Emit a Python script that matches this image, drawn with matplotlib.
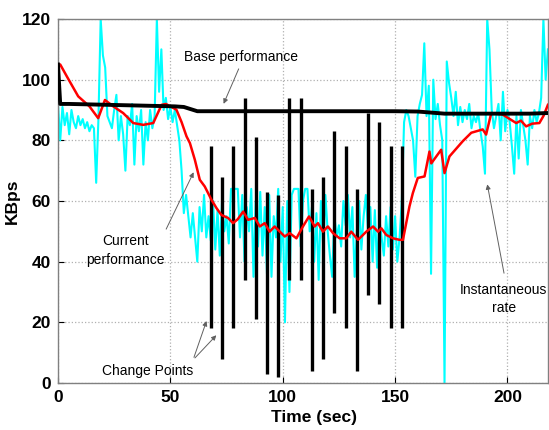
import matplotlib
matplotlib.use("Agg")
import matplotlib.pyplot as plt
import numpy as np

# ---------------- data ----------------
# instantaneous rate (cyan), one sample per second, t = 0..218
inst_rate = [
    92, 80, 91, 85, 89, 82, 90, 86, 84, 88,
    85, 87, 84, 86, 83, 85, 84, 66, 87, 120,
    108, 104, 88, 86, 84, 90, 95, 80, 88, 82,
    70, 88, 85, 92, 72, 88, 83, 90, 72, 86,
    80, 90, 84, 88, 120, 96, 110, 90, 94, 87,
    91, 86, 90, 85, 80, 70, 56, 62, 55, 48,
    56, 48, 40, 58, 50, 62, 48, 55, 47, 60,
    44, 57, 42, 60, 50, 55, 46, 64, 64, 64,
    64, 48, 62, 40, 58, 50, 64, 35, 60, 45,
    63, 42, 58, 36, 62, 35, 55, 48, 64, 40,
    58, 20, 60, 30, 62, 64, 64, 64, 45, 60,
    64, 64, 50, 58, 40, 56, 34, 60, 45, 62,
    50, 42, 35, 55, 48, 52, 45, 60, 52, 62,
    48, 58, 35, 50, 60, 44, 55, 62, 50, 58,
    40, 57, 38, 54, 48, 42, 55, 45, 58, 44,
    55, 40, 48, 60, 86, 90, 88, 84, 80, 68,
    88, 92, 95, 112, 88, 98, 36, 100, 87, 92,
    85, 80, 0, 106, 99, 94, 88, 96, 85, 91,
    86, 90, 87, 92, 84, 88, 86, 89, 83, 78,
    69, 120, 110, 90, 84, 88, 92, 80, 96, 83,
    90, 86, 78, 69, 88, 74, 90, 85, 80, 72,
    88, 84, 90, 86, 89, 94, 120, 100, 110,
]
inst_time = list(range(len(inst_rate)))

# current performance (red)
cur_time = [0, 1, 4, 9, 14, 17.9, 20.9, 24.6, 29, 33.5, 37.9, 42.4, 46.1, 48, 52.7,
            55, 57.2, 58.7, 60.9, 63.1, 65.3, 68.3, 70.5, 72.7, 75.7, 77.9, 80, 82.4,
            84.6, 87.6, 89.8, 92, 94.2, 96.4, 98.7, 100.9, 103.1, 106.1, 109, 111.7,
            114.2, 115.7, 117.9, 120.1, 122.4, 125.3, 128.3, 130.5, 133.5, 137.2,
            140.2, 142.4, 143.9, 146.1, 149.1, 152, 153.5, 156.4, 157.9, 160.1,
            163.1, 165.3, 166.1, 170.5, 172, 174.2, 180.1, 183.9, 189, 190.5,
            192.8, 197.9, 200, 203.9, 206, 208.3, 211, 214.2, 216, 218]
cur_perf = [105, 105, 101, 94.5, 91.2, 87.3, 93.3, 91.2, 89, 85.7, 85.1, 85.7, 91.7, 92, 90.1,
            86, 81.3, 79.1, 73.6, 67, 64.8, 60.4, 57.7, 55.4, 54.4, 52.7, 54, 56.5,
            53.8, 54.4, 51.6, 52.7, 49.9, 51.6, 49.9, 48.3, 49.4, 47.7, 51.6, 54.9,
            51.6, 52.7, 49.9, 51.6, 49.4, 47.7, 47.7, 49.9, 47.2, 49.9,
            51.6, 49.9, 51, 48.8, 47.7, 47.2, 47.2, 58.2, 62.6, 67.6,
            68.1, 76.3, 72.4, 76.9, 69.2, 74.7, 79.7, 82.5, 83.6, 81.9,
            89, 88.5, 87.5, 85.7, 86.5, 84.6, 85.5, 85.7, 88, 91.7]

# base performance (black)
base_time = [0, 1, 5, 52, 56, 62, 150, 160, 172, 210, 218]
base_perf = [105, 92, 92, 91.2, 91, 89.6, 89.6, 89.5, 88.8, 88.8, 89]

# change points (vertical black bars)
cp_time = [68, 73, 78, 83, 88, 93, 98, 103, 108, 113, 118, 123, 128, 133, 138, 143, 148, 153]
cp_top = [78, 68, 78, 94, 81, 63, 62, 94, 94, 64, 68, 83, 78, 64, 89, 86, 78, 78]
cp_bot = [18, 8, 18, 34, 21, 3, 2, 34, 34, 4, 8, 23, 18, 4, 29, 26, 18, 18]

x_ticks = [0, 50, 100, 150, 200]
y_ticks = [0, 20, 40, 60, 80, 100, 120]

# ---------------- plot ----------------
plt.rcParams['font.family'] = ['Liberation Sans', 'DejaVu Sans']

fig = plt.figure(figsize=(5.49, 4.30), dpi=100)
ax = fig.add_axes([0.1056, 0.1093, 0.8944 - 0.002, 0.8465])

ax.plot(inst_time, inst_rate, color='#00ffff', lw=1.5, zorder=2)
ax.vlines(cp_time, cp_bot, cp_top, color='black', lw=2.4, zorder=3)
ax.plot(cur_time, cur_perf, color='#ff0000', lw=1.8, zorder=4)
ax.plot(base_time, base_perf, color='black', lw=2.8, zorder=5)

ax.set_xlim(0, 218)
ax.set_ylim(0, 120)
ax.set_xticks(x_ticks)
ax.set_yticks(y_ticks)
ax.tick_params(direction='in', length=4, labelsize=12.5, colors='black', pad=5)
for lab in ax.get_xticklabels() + ax.get_yticklabels():
    lab.set_fontweight('bold')
ax.grid(True, color='#b0b0b0', linestyle=':', lw=0.9)
for s in ax.spines.values():
    s.set_color('#808080')
    s.set_linewidth(1.0)

ax.set_xlabel('Time (sec)', fontsize=12.5, fontweight='bold', labelpad=2)
ax.xaxis.set_label_coords(0.523, -0.075)
ax.set_ylabel('KBps', fontsize=12.5, fontweight='bold')
ax.yaxis.set_label_coords(-0.078, 0.5)

tk = dict(fontsize=10, ha='center', va='center', color='black', zorder=10)
ax.text(81.5, 107.5, 'Base performance', **tk)
ax.annotate('', xy=(73.2, 91.2), xytext=(80.9, 104.4),
            arrowprops=dict(arrowstyle='-|>', color='#606060', lw=0.7, mutation_scale=7))

ax.text(30, 43.6, 'Current\nperformance', linespacing=1.45, **tk)
ax.annotate('', xy=(60.9, 70.3), xytext=(47.6, 49.9),
            arrowprops=dict(arrowstyle='-|>', color='#606060', lw=0.7, mutation_scale=7))

ax.text(39.8, 4, 'Change Points', **tk)
for tip in [(66.5, 21.3), (71.3, 16.4)]:
    ax.annotate('', xy=tip, xytext=(60.1, 7.6),
                arrowprops=dict(arrowstyle='-|>', color='#606060', lw=0.7, mutation_scale=7))

ax.text(198.4, 27.7, 'Instantaneous\nrate', linespacing=1.4, **tk)
ax.annotate('', xy=(190.8, 66.4), xytext=(198.7, 35.3),
            arrowprops=dict(arrowstyle='-|>', color='#606060', lw=0.7, mutation_scale=7))

fig.savefig('out.png', dpi=100)
